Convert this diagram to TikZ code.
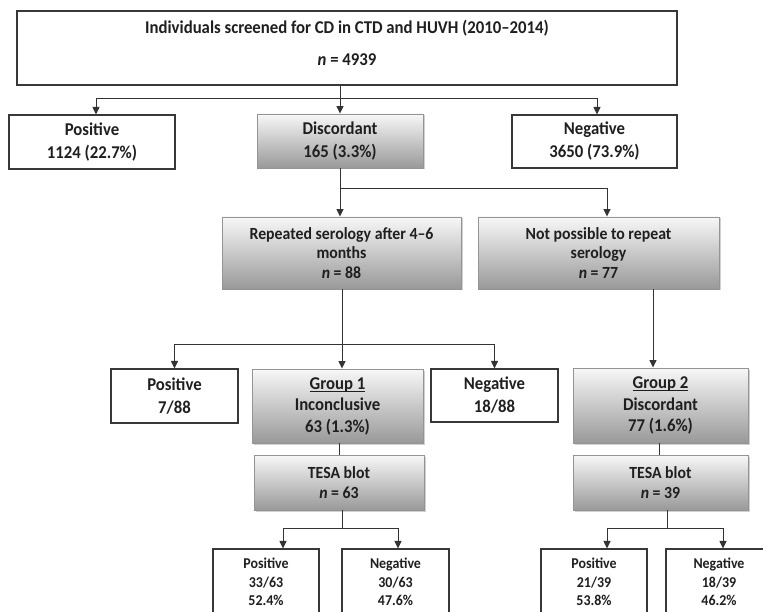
\documentclass[tikz,border=0pt]{standalone}
\usepackage{fontspec}
\setmainfont{Carlito}[FakeStretch=0.93]
\usetikzlibrary{arrows.meta,shadows}
\newcommand{\grpul}[1]{\setbox0\hbox{#1}\rlap{\copy0}\rule[-2.8pt]{\wd0}{1pt}}
\begin{document}
\begin{tikzpicture}[x=1pt,y=-1pt,
  fbig/.style={font=\fontsize{18}{23}\selectfont\bfseries},
  fmid/.style={font=\fontsize{17}{19.5}\selectfont\bfseries},
  fsmall/.style={font=\fontsize{15}{18.5}\selectfont\bfseries},
  wbox/.style={draw=black!78, line width=1.1pt, fill=white, align=center, inner sep=0pt, text=black!88},
  gbox/.style={draw=black!42, line width=0.9pt, top color=black!3, bottom color=black!40, align=center, inner sep=0pt, text=black!88,
    drop shadow={shadow xshift=1.5pt, shadow yshift=-1.5pt, fill=black!30, opacity=0.6}},
  arr/.style={draw=black!80, line width=1pt, -{Triangle[width=7pt,length=7.5pt]}},
  ln/.style={draw=black!80, line width=1pt}]
\useasboundingbox (0,0) rectangle (763,612);
\fill[white] (0,0) rectangle (763,612);
% row 0
\node[wbox, minimum width=660pt, minimum height=74pt] (top) at (347,48) {};
\node[fbig, text=black!88] (toptitle) at (347,28) {Individuals screened for CD in CTD and HUVH (2010--2014)};
\node[fbig, text=black!88] (topn) at (347,60) {\textit{n} = 4939};
% row 1
\node[wbox, fbig, minimum width=166pt, minimum height=54pt] (pos1) at (92,142) {Positive\\1124 (22.7\%)};
\node[gbox, fbig, minimum width=166pt, minimum height=54pt] (disc) at (340,141) {Discordant\\165 (3.3\%)};
\node[wbox, fbig, minimum width=165pt, minimum height=53pt] (neg1) at (594.5,141.5) {Negative\\3650 (73.9\%)};
% row 2
\node[gbox, fmid, minimum width=239pt, minimum height=72pt] (rep) at (341.5,253) {Repeated serology after 4--6\\months\\\textit{n} = 88};
\node[gbox, fmid, minimum width=241pt, minimum height=72pt] (notp) at (598.5,253) {Not possible to repeat\\serology\\\textit{n} = 77};
% row 3
\node[wbox, fbig, minimum width=127pt, minimum height=54pt] (pos2) at (174.5,396) {Positive\\7/88};
\node[gbox, font=\fontsize{18}{21.5}\selectfont\bfseries, minimum width=171pt, minimum height=74pt] (g1) at (337.5,406) {\grpul{Group 1}\\Inconclusive\\63 (1.3\%)};
\node[wbox, fbig, minimum width=127pt, minimum height=53pt] (neg2) at (494.5,395.5) {Negative\\18/88};
\node[gbox, font=\fontsize{18}{21.5}\selectfont\bfseries, minimum width=175pt, minimum height=75pt] (g2) at (660.5,405.5) {\grpul{Group 2}\\Discordant\\77 (1.6\%)};
% row 4
\node[gbox, fmid, minimum width=170pt, minimum height=55pt] (tesa1) at (339,482.5) {TESA blot\\\textit{n} = 63};
\node[gbox, fmid, minimum width=175pt, minimum height=55pt] (tesa2) at (660.5,482.5) {TESA blot\\\textit{n} = 39};
% row 5
\node[wbox, fsmall, minimum width=106pt, minimum height=66pt] (bp1) at (266,582) {Positive\\33/63\\52.4\%};
\node[wbox, fsmall, minimum width=107pt, minimum height=66pt] (bn1) at (395.5,582) {Negative\\30/63\\47.6\%};
\node[wbox, fsmall, minimum width=106pt, minimum height=66pt] (bp2) at (594,582) {Positive\\21/39\\53.8\%};
\node[wbox, fsmall, minimum width=106pt, minimum height=66pt] (bn2) at (719,582) {Negative\\18/39\\46.2\%};
% connectors
\coordinate (j1) at (340,99);
\draw[arr] (top.south -| disc.north) -- (disc.north);
\draw[arr] (j1) -| ([xshift=4pt]pos1.north);
\draw[arr] (j1) -| ([xshift=2.5pt]neg1.north);
\coordinate (j2) at (340,189);
\draw[arr] (disc.south) -- (disc.south |- rep.north);
\draw[arr] (j2) -| ([xshift=8.5pt]notp.north);
\coordinate (j3) at (342,344);
\draw[ln] (rep.south -| j3) -- (j3);
\draw[arr] (j3) -- (j3 |- g1.north);
\draw[arr] (j3) -| (pos2.north);
\draw[arr] (j3) -| (neg2.north);
\draw[arr] ([xshift=-7.5pt]g2.north |- notp.south) -- ([xshift=-7.5pt]g2.north);
\draw[ln] (g1.south -| tesa1) -- (tesa1.north);
\draw[ln] ([xshift=-1.5pt]g2.south) -- ([xshift=-1.5pt]tesa2.north);
\coordinate (j4) at (342,528);
\draw[ln] (tesa1.south -| j4) -- (j4);
\draw[arr] (j4) -| ([xshift=17pt]bp1.north);
\draw[arr] (j4) -| ([xshift=2.5pt]bn1.north);
\coordinate (j5) at (667,528);
\draw[ln] (tesa2.south -| j5) -- (j5);
\draw[arr] (j5) -| ([xshift=13pt]bp2.north);
\draw[arr] (j5) -| ([xshift=4pt]bn2.north);
\end{tikzpicture}
\end{document}
